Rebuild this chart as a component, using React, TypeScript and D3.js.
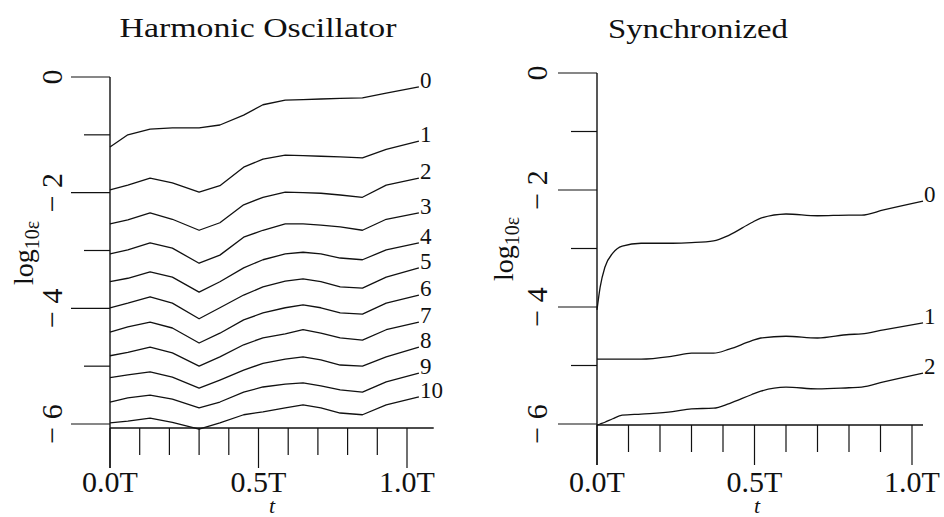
import React, { useEffect, useRef } from "react";
import * as d3 from "d3";

const width = 944;
const height = 517;

// left panel: harmonic oscillator, log10 of error vs time, curves 0..10
const hoTimes = [0, 0.06, 0.135, 0.21, 0.30, 0.37, 0.45, 0.515, 0.59, 0.65, 0.71, 0.775, 0.85, 0.93, 1.04];
const hoCurves = [
    [-1.21, -1.00, -0.90, -0.88, -0.88, -0.83, -0.66, -0.48, -0.40, -0.39, -0.38, -0.37, -0.36, -0.28, -0.17],
    [-1.95, -1.87, -1.75, -1.83, -1.99, -1.88, -1.56, -1.42, -1.35, -1.36, -1.37, -1.38, -1.40, -1.25, -1.11],
    [-2.54, -2.47, -2.35, -2.46, -2.65, -2.52, -2.21, -2.08, -1.99, -2.00, -2.01, -2.04, -2.08, -1.87, -1.75],
    [-3.06, -2.99, -2.87, -2.96, -3.22, -3.08, -2.77, -2.65, -2.54, -2.54, -2.56, -2.59, -2.65, -2.46, -2.35],
    [-3.54, -3.48, -3.37, -3.46, -3.72, -3.54, -3.30, -3.16, -3.06, -3.03, -3.06, -3.13, -3.16, -2.99, -2.87],
    [-3.99, -3.91, -3.80, -3.91, -4.18, -3.99, -3.77, -3.63, -3.53, -3.49, -3.54, -3.63, -3.65, -3.46, -3.30],
    [-4.41, -4.32, -4.24, -4.34, -4.60, -4.43, -4.20, -4.08, -3.99, -3.94, -3.99, -4.08, -4.10, -3.91, -3.77],
    [-4.82, -4.76, -4.67, -4.77, -5.00, -4.84, -4.63, -4.51, -4.44, -4.37, -4.43, -4.51, -4.55, -4.37, -4.24],
    [-5.20, -5.15, -5.10, -5.19, -5.38, -5.24, -5.07, -4.95, -4.88, -4.84, -4.89, -4.98, -5.00, -4.84, -4.67],
    [-5.62, -5.55, -5.50, -5.57, -5.72, -5.62, -5.45, -5.36, -5.31, -5.29, -5.34, -5.41, -5.45, -5.27, -5.12],
    [-5.98, -5.95, -5.90, -5.97, -6.09, -5.98, -5.84, -5.79, -5.72, -5.67, -5.72, -5.81, -5.84, -5.67, -5.53],
];
const hoLabels = ["0", "1", "2", "3", "4", "5", "6", "7", "8", "9", "10"];

// right panel: synchronized, curves 0..2
const syTimes = [0, 0.01, 0.025, 0.05, 0.08, 0.14, 0.24, 0.30, 0.37, 0.42, 0.49, 0.52, 0.60, 0.70, 0.80, 0.84, 0.91, 1.035];
const syCurves = [
    [-4.05, -3.66, -3.32, -3.08, -2.96, -2.91, -2.91, -2.90, -2.87, -2.77, -2.56, -2.48, -2.41, -2.44, -2.43, -2.43, -2.34, -2.19],
    [-4.89, -4.89, -4.89, -4.89, -4.89, -4.89, -4.84, -4.79, -4.79, -4.72, -4.58, -4.53, -4.50, -4.53, -4.47, -4.46, -4.39, -4.27],
    [-6.02, -6.00, -5.97, -5.91, -5.85, -5.83, -5.79, -5.74, -5.73, -5.65, -5.50, -5.44, -5.37, -5.40, -5.38, -5.37, -5.28, -5.13],
];
const syLabels = ["0", "1", "2"];

const yTicks = [0, -1, -2, -3, -4, -5, -6];
const yTickLabels = ["0", "", "\u2212 2", "", "\u2212 4", "", "\u2212 6"];
const xTicks = [0, 0.1, 0.2, 0.3, 0.4, 0.5, 0.6, 0.7, 0.8, 0.9, 1.0];
const xTickLabels = ["0.0T", "", "", "", "", "0.5T", "", "", "", "", "1.0T"];

const font = "'Liberation Serif', 'DejaVu Serif', serif";

const panels = [
    {
        title: "Harmonic Oscillator", titleX: 258, titleY: 37, titleLen: 277,
        times: hoTimes, curves: hoCurves, labels: hoLabels, smooth: false,
        xRange: [110, 407], yRange: [77, 424], axisDrop: 4, xEnd: 1.09,
        tickLabelX: 62, yTitleX: 33, yTitleY: 253, tLabelX: 272,
    },
    {
        title: "Synchronized", titleX: 698, titleY: 38, titleLen: 180,
        times: syTimes, curves: syCurves, labels: syLabels, smooth: true,
        xRange: [597, 912], yRange: [73, 424], axisDrop: 1, xEnd: 1.035,
        tickLabelX: 547, yTitleX: 513, yTitleY: 249, tLabelX: 757,
    },
];

function App() {
    const ref = useRef<SVGSVGElement | null>(null);

    useEffect(() => {
        const svg = d3.select(ref.current);
        svg.selectAll("*").remove();

        for (const p of panels) {
            const x = d3.scaleLinear().domain([0, 1]).range(p.xRange);
            const y = d3.scaleLinear().domain([0, -6]).range(p.yRange);
            const g = svg.append("g").attr("font-family", font).attr("fill", "#111");
            const axisY = y(-6) + p.axisDrop;
            const x0 = x(0);

            g.append("text")
                .attr("x", p.titleX)
                .attr("y", p.titleY)
                .attr("text-anchor", "middle")
                .attr("font-size", 28)
                .attr("textLength", p.titleLen)
                .attr("lengthAdjust", "spacingAndGlyphs")
                .text(p.title);

            // y axis line, running on into the 0.0T tick
            g.append("line")
                .attr("x1", x0).attr("x2", x0)
                .attr("y1", y(0)).attr("y2", axisY + 40)
                .attr("stroke", "#111").attr("stroke-width", 1.4);

            g.selectAll(".ytick")
                .data(yTicks)
                .enter()
                .append("line")
                .attr("x1", (d) => x0 - (d % 2 === 0 ? 39 : 26))
                .attr("x2", x0)
                .attr("y1", (d) => y(d))
                .attr("y2", (d) => y(d))
                .attr("stroke", "#111").attr("stroke-width", 1.2);

            g.selectAll(".ylab")
                .data(yTicks)
                .enter()
                .append("text")
                .attr("transform", (d) => `translate(${p.tickLabelX},${y(d)}) rotate(-90)`)
                .attr("text-anchor", "middle")
                .attr("font-size", 30)
                .text((d, i) => yTickLabels[i]);

            const yt = g.append("text")
                .attr("transform", `translate(${p.yTitleX},${p.yTitleY}) rotate(-90)`)
                .attr("text-anchor", "middle")
                .attr("font-size", 28);
            yt.append("tspan").text("log");
            yt.append("tspan").attr("font-size", 20).attr("dy", 6).text("10\u03b5");

            // x axis
            g.append("line")
                .attr("x1", x0).attr("x2", x(p.xEnd))
                .attr("y1", axisY).attr("y2", axisY)
                .attr("stroke", "#111").attr("stroke-width", 1.4);

            g.selectAll(".xtick")
                .data(xTicks)
                .enter()
                .append("line")
                .attr("x1", (d) => x(d)).attr("x2", (d) => x(d))
                .attr("y1", axisY)
                .attr("y2", (d, i) => axisY + (xTickLabels[i] ? 40 : 27))
                .attr("stroke", "#111").attr("stroke-width", 1.2);

            g.selectAll(".xlab")
                .data(xTicks)
                .enter()
                .append("text")
                .attr("x", (d) => x(d))
                .attr("y", 492)
                .attr("text-anchor", "middle")
                .attr("font-size", 30)
                .text((d, i) => xTickLabels[i]);

            g.append("text")
                .attr("x", p.tLabelX)
                .attr("y", 513)
                .attr("text-anchor", "middle")
                .attr("font-size", 22)
                .attr("font-style", "italic")
                .text("t");

            const line = d3.line<number>()
                .x((d, i) => x(p.times[i]))
                .y((d) => y(d))
                .curve(p.smooth ? d3.curveMonotoneX : d3.curveLinear);

            g.selectAll(".curve")
                .data(p.curves)
                .enter()
                .append("path")
                .attr("d", (d) => line(d))
                .attr("fill", "none")
                .attr("stroke", "#111")
                .attr("stroke-width", 1.3)
                .attr("stroke-linejoin", "round");

            const last = p.times.length - 1;
            g.selectAll(".clab")
                .data(p.curves)
                .enter()
                .append("text")
                .attr("x", x(p.times[last]) + 1)
                .attr("y", (d) => y(d[last]) + 1)
                .attr("font-size", 23)
                .text((d, i) => p.labels[i]);
        }
    }, []);

    return (
        <svg
            ref={ref}
            width={width}
            height={height}
            style={{ position: "absolute", left: 0, top: 0, background: "#fff" }}
        />
    );
}

export default App;
